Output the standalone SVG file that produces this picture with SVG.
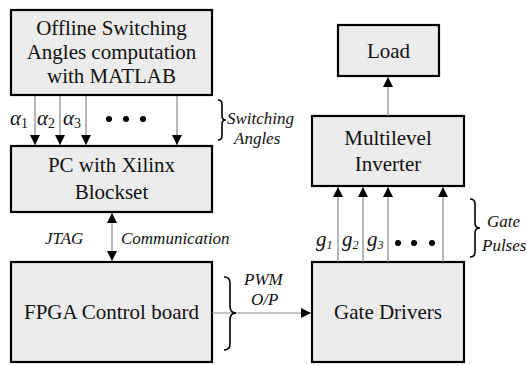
<svg xmlns="http://www.w3.org/2000/svg" width="527" height="365" viewBox="0 0 527 365" font-family="Liberation Serif, Times New Roman, serif">
  <defs>
    <marker id="arr" viewBox="0 0 10 10" refX="10" refY="5" markerWidth="10" markerHeight="10" markerUnits="userSpaceOnUse" orient="auto-start-reverse">
      <path d="M0,0 L10,5 L0,10 Z" fill="#000"/>
    </marker>
  </defs>
  <style>
    text { fill: #111; }
    .box { fill: #ececec; stroke: #000; stroke-width: 2.2; }
    .lbl { font-size: 21px; text-anchor: middle; }
    .it { font-style: italic; font-size: 17px; }
    .sym { font-style: italic; font-size: 21px; }
    .sub { font-size: 14px; font-style: normal; }
    .gsub { font-size: 12px; }
    .wire { stroke: #888; stroke-width: 1.2; fill: none; }
    .brace { stroke: #000; stroke-width: 1.6; fill: none; }
  </style>

  <g id="offline">
    <rect class="box" x="11" y="10" width="201" height="85"/>
    <text class="lbl" x="111.5" y="35" font-family="Liberation Serif">Offline Switching</text>
    <text class="lbl" x="111.5" y="59">Angles computation</text>
    <text class="lbl" x="111.5" y="83">with MATLAB</text>
  </g>

  <g id="pc">
    <rect class="box" x="11" y="146" width="201" height="66"/>
    <text class="lbl" x="111.5" y="172">PC with Xilinx</text>
    <text class="lbl" x="111.5" y="199">Blockset</text>
  </g>

  <g id="fpga">
    <rect class="box" x="11" y="262" width="201" height="100"/>
    <text class="lbl" x="111.5" y="319">FPGA Control board</text>
  </g>

  <g id="load">
    <rect class="box" x="338" y="25" width="101" height="51"/>
    <text class="lbl" x="388.5" y="58">Load</text>
  </g>

  <g id="inverter">
    <rect class="box" x="312" y="116" width="152" height="70"/>
    <text class="lbl" x="388" y="145">Multilevel</text>
    <text class="lbl" x="388" y="171">Inverter</text>
  </g>

  <g id="drivers">
    <rect class="box" x="312" y="262" width="152" height="100"/>
    <text class="lbl" x="388" y="319">Gate Drivers</text>
  </g>

  <g id="connectors">
    <!-- switching angles -->
    <line class="wire" x1="35" y1="96" x2="35" y2="145" marker-end="url(#arr)"/>
    <line class="wire" x1="60" y1="96" x2="60" y2="145" marker-end="url(#arr)"/>
    <line class="wire" x1="86" y1="96" x2="86" y2="145" marker-end="url(#arr)"/>
    <line class="wire" x1="177" y1="96" x2="177" y2="145" marker-end="url(#arr)"/>
    <!-- JTAG link -->
    <line class="wire" x1="112" y1="213" x2="112" y2="261" marker-start="url(#arr)" marker-end="url(#arr)"/>
    <!-- PWM output -->
    <line class="wire" x1="212" y1="313" x2="311" y2="313" marker-end="url(#arr)"/>
    <!-- gate pulses -->
    <line class="wire" x1="338" y1="262" x2="338" y2="187" marker-end="url(#arr)"/>
    <line class="wire" x1="363" y1="262" x2="363" y2="187" marker-end="url(#arr)"/>
    <line class="wire" x1="388" y1="262" x2="388" y2="187" marker-end="url(#arr)"/>
    <line class="wire" x1="443" y1="262" x2="443" y2="187" marker-end="url(#arr)"/>
    <!-- to load -->
    <line class="wire" x1="388" y1="116" x2="388" y2="77" marker-end="url(#arr)"/>
  </g>

  <g id="angle-labels">
    <text class="sym" x="10" y="125">α<tspan class="sub" dy="3">1</tspan></text>
    <text class="sym" x="37" y="125">α<tspan class="sub" dy="3">2</tspan></text>
    <text class="sym" x="63" y="125">α<tspan class="sub" dy="3">3</tspan></text>
    <circle cx="109" cy="119" r="3"/>
    <circle cx="126" cy="119" r="3"/>
    <circle cx="143" cy="119" r="3"/>
    <path class="brace" d="M218,100 Q222,100 222,104 L222,116 Q222,120 226,120 Q222,120 222,124 L222,136 Q222,140 218,140"/>
    <text class="it" x="227" y="124">Switching</text>
    <text class="it" x="234" y="144">Angles</text>
  </g>

  <g id="link-labels">
    <text class="it" x="45" y="244">JTAG</text>
    <text class="it" x="121" y="244">Communication</text>
  </g>

  <g id="pwm-label">
    <path class="brace" d="M224,277 Q230,277 230,283 L230,306 Q230,313 236,313 Q230,313 230,320 L230,344 Q230,350 224,350"/>
    <text class="it" x="244" y="285">PWM</text>
    <text class="it" x="251" y="305">O/P</text>
  </g>

  <g id="gate-labels">
    <text class="sym" x="316" y="246">g<tspan class="gsub" dy="3">1</tspan></text>
    <text class="sym" x="342" y="246">g<tspan class="gsub" dy="3">2</tspan></text>
    <text class="sym" x="367" y="246">g<tspan class="gsub" dy="3">3</tspan></text>
    <circle cx="398" cy="243" r="3"/>
    <circle cx="414" cy="243" r="3"/>
    <circle cx="432" cy="243" r="3"/>
    <path class="brace" d="M470,199 Q475,199 475,204 L475,223 Q475,228 480,228 Q475,228 475,233 L475,252 Q475,257 470,257"/>
    <text class="it" x="487" y="227">Gate</text>
    <text class="it" x="482" y="251">Pulses</text>
  </g>
</svg>
